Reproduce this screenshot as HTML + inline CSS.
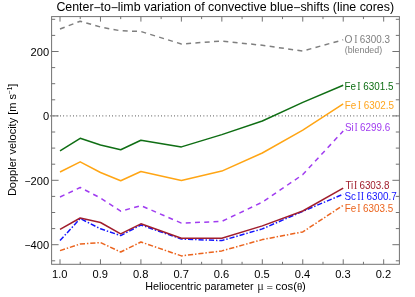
<!DOCTYPE html>
<html><head><meta charset="utf-8"><title>Center-to-limb variation</title>
<style>html,body{margin:0;padding:0;background:#fff}</style></head>
<body>
<svg width="415" height="297" viewBox="0 0 415 297" style="display:block;will-change:transform">
<rect width="415" height="297" fill="#fff"/>
<line x1="50.32" y1="115.90" x2="399.4" y2="115.90" stroke="#444" stroke-width="1.4" stroke-dasharray="0.7 2.56"/>
<polyline points="60.0,29.0 80.2,21.2 100.5,27.0 120.7,30.8 140.9,31.5 181.4,44.0 221.8,41.0 262.3,45.3 302.8,51.0 343.2,39.8" fill="none" stroke="#7f7f7f" stroke-width="1.5" stroke-linejoin="round" stroke-dasharray="5.0 4.33"/>
<polyline points="60.0,150.8 80.2,138.3 100.5,145.0 120.7,149.8 140.9,140.3 181.4,146.9 221.8,134.6 262.3,121.0 302.8,102.4 343.2,85.2" fill="none" stroke="#0f6e14" stroke-width="1.5" stroke-linejoin="round"/>
<polyline points="60.0,172.0 80.2,161.8 100.5,172.5 120.7,180.8 140.9,171.5 181.4,180.4 221.8,171.1 262.3,153.0 302.8,130.2 343.2,103.8" fill="none" stroke="#ffa514" stroke-width="1.5" stroke-linejoin="round"/>
<polyline points="60.0,197.0 80.2,187.5 100.5,198.0 120.7,211.2 140.9,205.6 181.4,223.1 221.8,221.4 262.3,202.2 302.8,174.6 343.2,131.0" fill="none" stroke="#a03cf0" stroke-width="1.5" stroke-linejoin="round" stroke-dasharray="4.95 4.3"/>
<polyline points="60.0,250.6 80.2,244.0 100.5,242.6 120.7,252.0 140.9,242.0 181.4,255.9 221.8,250.9 262.3,239.6 302.8,231.9 343.2,205.3" fill="none" stroke="#eb641e" stroke-width="1.5" stroke-linejoin="round" stroke-dasharray="5.2 1.9 1.45 1.9"/>
<polyline points="60.0,240.6 80.2,218.5 100.5,228.8 120.7,235.6 140.9,225.0 181.4,239.0 221.8,240.6 262.3,228.9 302.8,211.3 343.2,194.2" fill="none" stroke="#1414ff" stroke-width="1.5" stroke-linejoin="round" stroke-dasharray="5.2 1.9 1.45 1.9"/>
<polyline points="60.0,229.3 80.2,218.0 100.5,222.5 120.7,233.8 140.9,223.8 181.4,238.3 221.8,238.3 262.3,225.9 302.8,211.0 343.2,188.1" fill="none" stroke="#a01e2d" stroke-width="1.5" stroke-linejoin="round"/>
<g stroke="#727272" stroke-width="1" fill="none">
<rect x="51.6" y="16.6" width="347.80" height="247.70"/>
<line x1="60.00" y1="264.3" x2="60.00" y2="259.3"/>
<line x1="60.00" y1="16.6" x2="60.00" y2="21.6"/>
<line x1="80.23" y1="264.3" x2="80.23" y2="261.8"/>
<line x1="80.23" y1="16.6" x2="80.23" y2="19.1"/>
<line x1="100.46" y1="264.3" x2="100.46" y2="259.3"/>
<line x1="100.46" y1="16.6" x2="100.46" y2="21.6"/>
<line x1="120.69" y1="264.3" x2="120.69" y2="261.8"/>
<line x1="120.69" y1="16.6" x2="120.69" y2="19.1"/>
<line x1="140.92" y1="264.3" x2="140.92" y2="259.3"/>
<line x1="140.92" y1="16.6" x2="140.92" y2="21.6"/>
<line x1="161.15" y1="264.3" x2="161.15" y2="261.8"/>
<line x1="161.15" y1="16.6" x2="161.15" y2="19.1"/>
<line x1="181.38" y1="264.3" x2="181.38" y2="259.3"/>
<line x1="181.38" y1="16.6" x2="181.38" y2="21.6"/>
<line x1="201.61" y1="264.3" x2="201.61" y2="261.8"/>
<line x1="201.61" y1="16.6" x2="201.61" y2="19.1"/>
<line x1="221.84" y1="264.3" x2="221.84" y2="259.3"/>
<line x1="221.84" y1="16.6" x2="221.84" y2="21.6"/>
<line x1="242.07" y1="264.3" x2="242.07" y2="261.8"/>
<line x1="242.07" y1="16.6" x2="242.07" y2="19.1"/>
<line x1="262.30" y1="264.3" x2="262.30" y2="259.3"/>
<line x1="262.30" y1="16.6" x2="262.30" y2="21.6"/>
<line x1="282.53" y1="264.3" x2="282.53" y2="261.8"/>
<line x1="282.53" y1="16.6" x2="282.53" y2="19.1"/>
<line x1="302.76" y1="264.3" x2="302.76" y2="259.3"/>
<line x1="302.76" y1="16.6" x2="302.76" y2="21.6"/>
<line x1="322.99" y1="264.3" x2="322.99" y2="261.8"/>
<line x1="322.99" y1="16.6" x2="322.99" y2="19.1"/>
<line x1="343.22" y1="264.3" x2="343.22" y2="259.3"/>
<line x1="343.22" y1="16.6" x2="343.22" y2="21.6"/>
<line x1="363.45" y1="264.3" x2="363.45" y2="261.8"/>
<line x1="363.45" y1="16.6" x2="363.45" y2="19.1"/>
<line x1="383.68" y1="264.3" x2="383.68" y2="259.3"/>
<line x1="383.68" y1="16.6" x2="383.68" y2="21.6"/>
<line x1="51.6" y1="260.80" x2="55.2" y2="260.80"/>
<line x1="399.4" y1="260.80" x2="395.79999999999995" y2="260.80"/>
<line x1="51.6" y1="244.70" x2="58.6" y2="244.70"/>
<line x1="399.4" y1="244.70" x2="392.4" y2="244.70"/>
<line x1="51.6" y1="228.60" x2="55.2" y2="228.60"/>
<line x1="399.4" y1="228.60" x2="395.79999999999995" y2="228.60"/>
<line x1="51.6" y1="212.50" x2="55.2" y2="212.50"/>
<line x1="399.4" y1="212.50" x2="395.79999999999995" y2="212.50"/>
<line x1="51.6" y1="196.40" x2="55.2" y2="196.40"/>
<line x1="399.4" y1="196.40" x2="395.79999999999995" y2="196.40"/>
<line x1="51.6" y1="180.30" x2="58.6" y2="180.30"/>
<line x1="399.4" y1="180.30" x2="392.4" y2="180.30"/>
<line x1="51.6" y1="164.20" x2="55.2" y2="164.20"/>
<line x1="399.4" y1="164.20" x2="395.79999999999995" y2="164.20"/>
<line x1="51.6" y1="148.10" x2="55.2" y2="148.10"/>
<line x1="399.4" y1="148.10" x2="395.79999999999995" y2="148.10"/>
<line x1="51.6" y1="132.00" x2="55.2" y2="132.00"/>
<line x1="399.4" y1="132.00" x2="395.79999999999995" y2="132.00"/>
<line x1="51.6" y1="115.90" x2="58.6" y2="115.90"/>
<line x1="399.4" y1="115.90" x2="392.4" y2="115.90"/>
<line x1="51.6" y1="99.80" x2="55.2" y2="99.80"/>
<line x1="399.4" y1="99.80" x2="395.79999999999995" y2="99.80"/>
<line x1="51.6" y1="83.70" x2="55.2" y2="83.70"/>
<line x1="399.4" y1="83.70" x2="395.79999999999995" y2="83.70"/>
<line x1="51.6" y1="67.60" x2="55.2" y2="67.60"/>
<line x1="399.4" y1="67.60" x2="395.79999999999995" y2="67.60"/>
<line x1="51.6" y1="51.50" x2="58.6" y2="51.50"/>
<line x1="399.4" y1="51.50" x2="392.4" y2="51.50"/>
<line x1="51.6" y1="35.40" x2="55.2" y2="35.40"/>
<line x1="399.4" y1="35.40" x2="395.79999999999995" y2="35.40"/>
<line x1="51.6" y1="19.30" x2="55.2" y2="19.30"/>
<line x1="399.4" y1="19.30" x2="395.79999999999995" y2="19.30"/>
</g>
<g font-family="'Liberation Sans', sans-serif" fill="#000">
<text x="56.4" y="11.3" font-size="12.40">Center<tspan dy="1.0" dx="-0.15">−</tspan><tspan dy="-1.0" dx="-0.15">to</tspan><tspan dy="1.0" dx="-0.15">−</tspan><tspan dy="-1.0" dx="-0.15">limb variation of convective blue</tspan><tspan dy="1.0" dx="-0.15">−</tspan><tspan dy="-1.0" dx="-0.15">shifts (line cores)</tspan></text>
<text x="49.1" y="56.0" font-size="11.1" text-anchor="end">200</text>
<text x="49.1" y="120.4" font-size="11.1" text-anchor="end">0</text>
<text x="49.1" y="184.8" font-size="11.1" text-anchor="end"><tspan dy="-0.1" font-size="10.3">−</tspan><tspan dy="0.1">200</tspan></text>
<text x="49.1" y="249.2" font-size="11.1" text-anchor="end"><tspan dy="-0.1" font-size="10.3">−</tspan><tspan dy="0.1">400</tspan></text>
<text x="59.7" y="278.0" font-size="11.1" text-anchor="middle">1.0</text>
<text x="100.2" y="278.0" font-size="11.1" text-anchor="middle">0.9</text>
<text x="140.6" y="278.0" font-size="11.1" text-anchor="middle">0.8</text>
<text x="181.1" y="278.0" font-size="11.1" text-anchor="middle">0.7</text>
<text x="221.5" y="278.0" font-size="11.1" text-anchor="middle">0.6</text>
<text x="262.0" y="278.0" font-size="11.1" text-anchor="middle">0.5</text>
<text x="302.5" y="278.0" font-size="11.1" text-anchor="middle">0.4</text>
<text x="342.9" y="278.0" font-size="11.1" text-anchor="middle">0.3</text>
<text x="383.4" y="278.0" font-size="11.1" text-anchor="middle">0.2</text>
<text x="253.5" y="289.8" font-size="10.77" text-anchor="end">Heliocentric parameter</text>
<text x="257.3" y="289.8" font-size="12.3" fill="#2a2a2a" font-family="'Liberation Serif', serif">μ</text>
<text transform="translate(266.7 290.1) scale(1 0.67)" font-size="10.3" stroke="#111" stroke-width="0.2">=</text>
<text x="275.6" y="289.8" font-size="11.3">cos(</text>
<text x="296.9" y="289.8" font-size="11" font-family="'Liberation Serif', serif">θ</text>
<text x="302.0" y="289.8" font-size="11.3">)</text>
<text transform="translate(15.9 196.1) rotate(-90)" font-size="11.0">Doppler velocity [m s<tspan font-size="6.3" dy="-4.3">−1</tspan><tspan dy="4.3">]</tspan></text>
</g>
<g fill="#7f7f7f" font-size="10.4"><text transform="translate(344.6 43.0) scale(0.95 1)" font-family="'Liberation Sans', sans-serif" font-size="10.8">O</text><text transform="translate(354.35 43.0) scale(0.8 1)" font-size="12.2" font-family="'Liberation Serif', serif">I</text><text transform="translate(359.8 43.0) scale(0.95 1)" font-family="'Liberation Sans', sans-serif">6300.3</text></g>
<text transform="translate(344.7 52.7) scale(0.95 1)" font-size="9.35" fill="#7f7f7f" font-family="'Liberation Sans', sans-serif">(blended)</text>
<g fill="#0f6e14" font-size="10.4"><text transform="translate(344.6 90.2) scale(0.95 1)" font-family="'Liberation Sans', sans-serif">Fe</text><text transform="translate(357.25 90.2) scale(0.8 1)" font-size="12.2" font-family="'Liberation Serif', serif">I</text><text transform="translate(363.3 90.2) scale(0.95 1)" font-family="'Liberation Sans', sans-serif">6301.5</text></g>
<g fill="#ffa51e" font-size="10.4"><text transform="translate(344.8 108.6) scale(0.95 1)" font-family="'Liberation Sans', sans-serif">Fe</text><text transform="translate(357.65 108.6) scale(0.8 1)" font-size="12.2" font-family="'Liberation Serif', serif">I</text><text transform="translate(363.7 108.6) scale(0.95 1)" font-family="'Liberation Sans', sans-serif">6302.5</text></g>
<g fill="#a03cf0" font-size="10.4"><text transform="translate(344.9 131.1) scale(0.95 1)" font-family="'Liberation Sans', sans-serif">Si</text><text transform="translate(354.55 131.1) scale(0.8 1)" font-size="12.2" font-family="'Liberation Serif', serif">I</text><text transform="translate(360.1 131.1) scale(0.95 1)" font-family="'Liberation Sans', sans-serif">6299.6</text></g>
<g fill="#a01e2d" font-size="10.4"><text transform="translate(345.4 188.6) scale(0.95 1)" font-family="'Liberation Sans', sans-serif">Ti</text><text transform="translate(354.05 188.6) scale(0.8 1)" font-size="12.2" font-family="'Liberation Serif', serif">I</text><text transform="translate(359.4 188.6) scale(0.95 1)" font-family="'Liberation Sans', sans-serif">6303.8</text></g>
<g fill="#1414ff" font-size="10.4"><text transform="translate(344.4 199.8) scale(0.95 1)" font-family="'Liberation Sans', sans-serif">Sc</text><text transform="translate(357.35 199.8) scale(0.8 1)" font-size="12.2" font-family="'Liberation Serif', serif">I</text><text transform="translate(360.85 199.8) scale(0.8 1)" font-size="12.2" font-family="'Liberation Serif', serif">I</text><text transform="translate(366.6 199.8) scale(0.95 1)" font-family="'Liberation Sans', sans-serif">6300.7</text></g>
<g fill="#eb641e" font-size="10.4"><text transform="translate(344.8 211.5) scale(0.95 1)" font-family="'Liberation Sans', sans-serif">Fe</text><text transform="translate(357.15 211.5) scale(0.8 1)" font-size="12.2" font-family="'Liberation Serif', serif">I</text><text transform="translate(363.1 211.5) scale(0.95 1)" font-family="'Liberation Sans', sans-serif">6303.5</text></g>
</svg>
</body></html>
